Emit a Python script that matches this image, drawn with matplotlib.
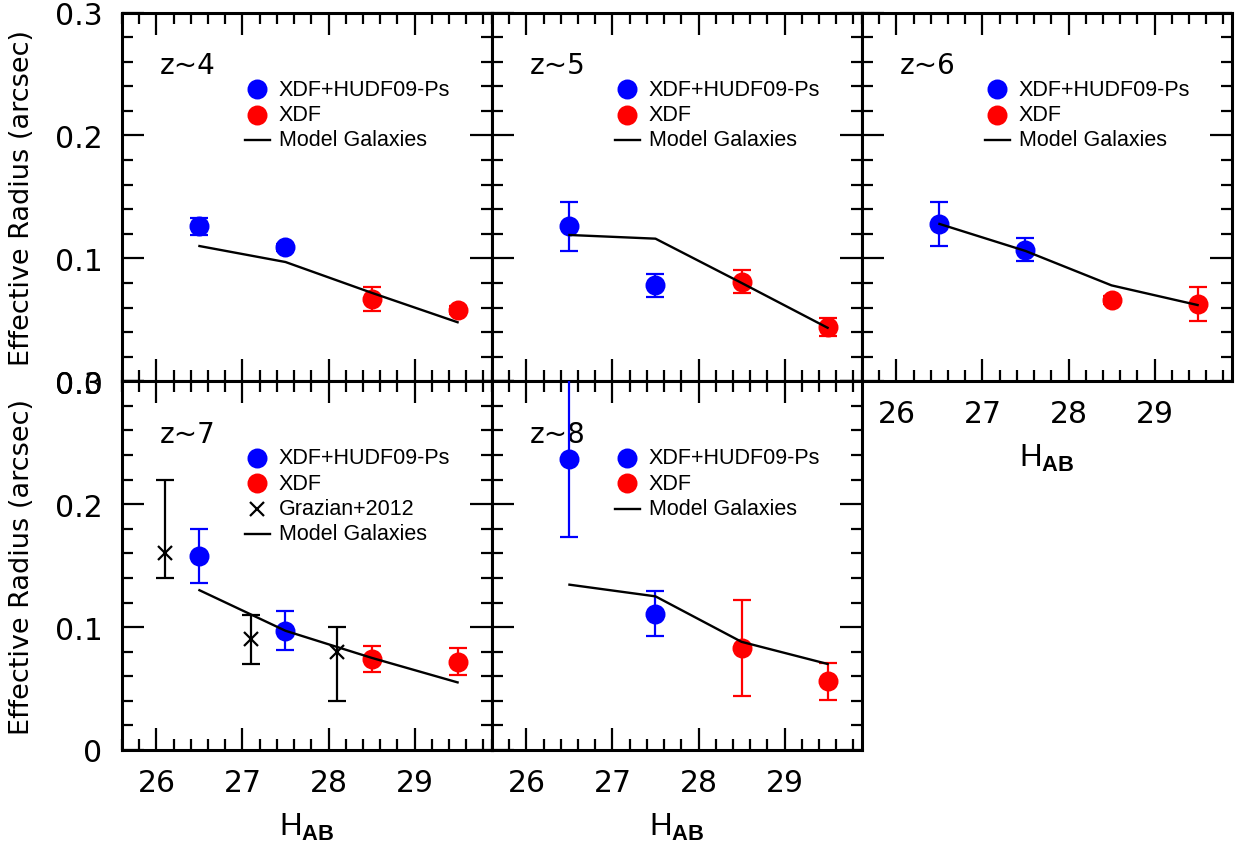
import matplotlib
matplotlib.use('Agg')
import matplotlib.pyplot as plt
from matplotlib.ticker import FixedLocator, FixedFormatter, MultipleLocator

plt.rcParams['font.family'] = ['Liberation Sans', 'DejaVu Sans']
plt.rcParams['mathtext.fontset'] = 'custom'
plt.rcParams['mathtext.rm'] = 'Liberation Sans'
plt.rcParams['mathtext.bf'] = 'Liberation Sans:bold'

# ---------------- data ----------------
mag_blue = [26.5, 27.5]
mag_red = [28.5, 29.5]
mag_model = [26.5, 27.5, 28.5, 29.5]

z4_blue = [0.126, 0.109]
z4_blue_err = [0.007, 0.003]
z4_red = [0.067, 0.058]
z4_red_err = [0.010, 0.003]
z4_model = [0.110, 0.097, 0.072, 0.048]

z5_blue = [0.126, 0.078]
z5_blue_err = [0.020, 0.0095]
z5_red = [0.081, 0.044]
z5_red_err = [0.0095, 0.0072]
z5_model = [0.119, 0.116, 0.080, 0.0435]

z6_blue = [0.128, 0.107]
z6_blue_err = [0.018, 0.0095]
z6_red = [0.066, 0.063]
z6_red_err = [0.003, 0.0136]
z6_model = [0.128, 0.106, 0.078, 0.062]

z7_blue = [0.158, 0.097]
z7_blue_err = [0.022, 0.016]
z7_red = [0.074, 0.072]
z7_red_err = [0.0105, 0.0106]
z7_model = [0.130, 0.097, 0.075, 0.055]

graz_mag = [26.1, 27.1, 28.1]
graz_re = [0.16, 0.09, 0.08]
graz_err_lo = [0.02, 0.02, 0.04]
graz_err_hi = [0.06, 0.02, 0.02]

z8_blue = [0.237, 0.111]
z8_blue_err_lo = [0.064, 0.0185]
z8_blue_err_hi = [0.080, 0.0185]
z8_red = [0.083, 0.056]
z8_red_err = [0.0387, 0.015]
z8_model = [0.1345, 0.125, 0.088, 0.070]

panel_labels = ['z~4', 'z~5', 'z~6', 'z~7', 'z~8']
legend_labels = ['XDF+HUDF09-Ps', 'XDF', 'Grazian+2012', 'Model Galaxies']
y_ticks = [0.0, 0.1, 0.2, 0.3]
y_ticklabels_top = ['0.0', '0.1', '0.2', '0.3']
y_ticklabels_bottom = ['0', '0.1', '0.2', '0.3']
x_ticks = [26, 27, 28, 29]
x_ticklabels = ['26', '27', '28', '29']

BLUE = (0, 0, 1)
RED = (1, 0, 0)

# ---------------- figure ----------------
fig = plt.figure(figsize=(12.38, 8.54), dpi=100)
W = 370 / 1238
H = 368.75 / 854
xs = [122 / 1238, 492 / 1238, 862 / 1238]
y_top = (854 - 382.25) / 854
y_bot = (854 - 751) / 854

panels = [
    dict(pos=(xs[0], y_top), lab=panel_labels[0], blue=z4_blue, blo=z4_blue_err, bhi=z4_blue_err,
         red=z4_red, rerr=z4_red_err, model=z4_model, graz=False, ylab=True, xlab=False,
         yticklab=y_ticklabels_top),
    dict(pos=(xs[1], y_top), lab=panel_labels[1], blue=z5_blue, blo=z5_blue_err, bhi=z5_blue_err,
         red=z5_red, rerr=z5_red_err, model=z5_model, graz=False, ylab=False, xlab=False,
         yticklab=y_ticklabels_top),
    dict(pos=(xs[2], y_top), lab=panel_labels[2], blue=z6_blue, blo=z6_blue_err, bhi=z6_blue_err,
         red=z6_red, rerr=z6_red_err, model=z6_model, graz=False, ylab=False, xlab=True,
         yticklab=y_ticklabels_top),
    dict(pos=(xs[0], y_bot), lab=panel_labels[3], blue=z7_blue, blo=z7_blue_err, bhi=z7_blue_err,
         red=z7_red, rerr=z7_red_err, model=z7_model, graz=True, ylab=True, xlab=True,
         yticklab=y_ticklabels_bottom),
    dict(pos=(xs[1], y_bot), lab=panel_labels[4], blue=z8_blue, blo=z8_blue_err_lo, bhi=z8_blue_err_hi,
         red=z8_red, rerr=z8_red_err, model=z8_model, graz=False, ylab=False, xlab=True,
         yticklab=y_ticklabels_bottom),
]

ELW = 1.6
MS = 14.4 - ELW
CAP = 6.8
LEG_FS = 15.5
row_y0 = 0.792
row_dy = 25.3 / 368.75
DV = ['DejaVu Sans']

for p in panels:
    ax = fig.add_axes([p['pos'][0], p['pos'][1], W, H])
    ax.set_xlim(25.6, 29.9)
    ax.set_ylim(0, 0.3)

    ax.errorbar(mag_blue, p['blue'], yerr=[p['blo'], p['bhi']], fmt='o', color=BLUE,
                mec=BLUE, ms=MS, mew=ELW, elinewidth=ELW, capsize=CAP, capthick=ELW, zorder=3)
    ax.errorbar(mag_red, p['red'], yerr=[p['rerr'], p['rerr']], fmt='o', color=RED,
                mec=RED, ms=MS, mew=ELW, elinewidth=ELW, capsize=CAP, capthick=ELW, zorder=3)
    if p['graz']:
        ax.errorbar(graz_mag, graz_re, yerr=[graz_err_lo, graz_err_hi], fmt='x', color='k',
                    ms=10, mew=ELW, elinewidth=ELW, capsize=CAP, capthick=ELW, zorder=3)
    ax.plot(mag_model, p['model'], color='k', lw=1.7, zorder=4)

    # panel label
    ax.text(0.103, 0.857, p['lab'], transform=ax.transAxes, fontsize=20, family=DV,
            ha='left', va='center', zorder=2)

    # legend (manual)
    entries = [('o', BLUE, legend_labels[0]), ('o', RED, legend_labels[1])]
    if p['graz']:
        entries.append(('x', 'k', legend_labels[2]))
    entries.append(('-', 'k', legend_labels[3]))
    for i, (kind, col, lab) in enumerate(entries):
        yy = row_y0 - i * row_dy
        if kind == 'o':
            ax.plot([0.365], [yy], 'o', color=col, mec=col, ms=MS, mew=ELW, transform=ax.transAxes)
        elif kind == 'x':
            ax.plot([0.365], [yy], 'x', color=col, ms=10, mew=ELW, transform=ax.transAxes)
        else:
            ax.plot([0.332, 0.400], [yy, yy], '-', color=col, lw=1.7, transform=ax.transAxes)
        ax.text(0.424, yy, lab, transform=ax.transAxes, fontsize=LEG_FS, ha='left', va='center')

    # ticks
    ax.xaxis.set_major_locator(FixedLocator(x_ticks))
    ax.xaxis.set_major_formatter(FixedFormatter(x_ticklabels))
    ax.xaxis.set_minor_locator(MultipleLocator(0.2))
    ax.yaxis.set_major_locator(FixedLocator(y_ticks))
    ax.yaxis.set_major_formatter(FixedFormatter(p['yticklab']))
    ax.yaxis.set_minor_locator(MultipleLocator(0.02))
    ax.tick_params(which='both', direction='in', top=True, right=True, width=1.6)
    ax.tick_params(which='major', length=15.8)
    ax.tick_params(which='minor', length=8)
    ax.tick_params(axis='x', labelsize=21.5, pad=13, labelbottom=p['xlab'])
    ax.tick_params(axis='y', labelsize=21.5, pad=14, labelleft=p['ylab'])
    for lbl in ax.get_xticklabels() + ax.get_yticklabels():
        lbl.set_family(DV)
    for s in ax.spines.values():
        s.set_linewidth(2.2)

    if p['ylab']:
        ax.set_ylabel('Effective Radius (arcsec)', fontsize=19.5, family=DV)
        ax.yaxis.set_label_coords(-0.235, 0.5)
    if p['xlab']:
        ax.set_xlabel(r'$\mathrm{H}_{\mathbf{AB}}$', fontsize=22.5)
        ax.xaxis.set_label_coords(0.5, -0.165)

fig.savefig('out.png', dpi=100)
